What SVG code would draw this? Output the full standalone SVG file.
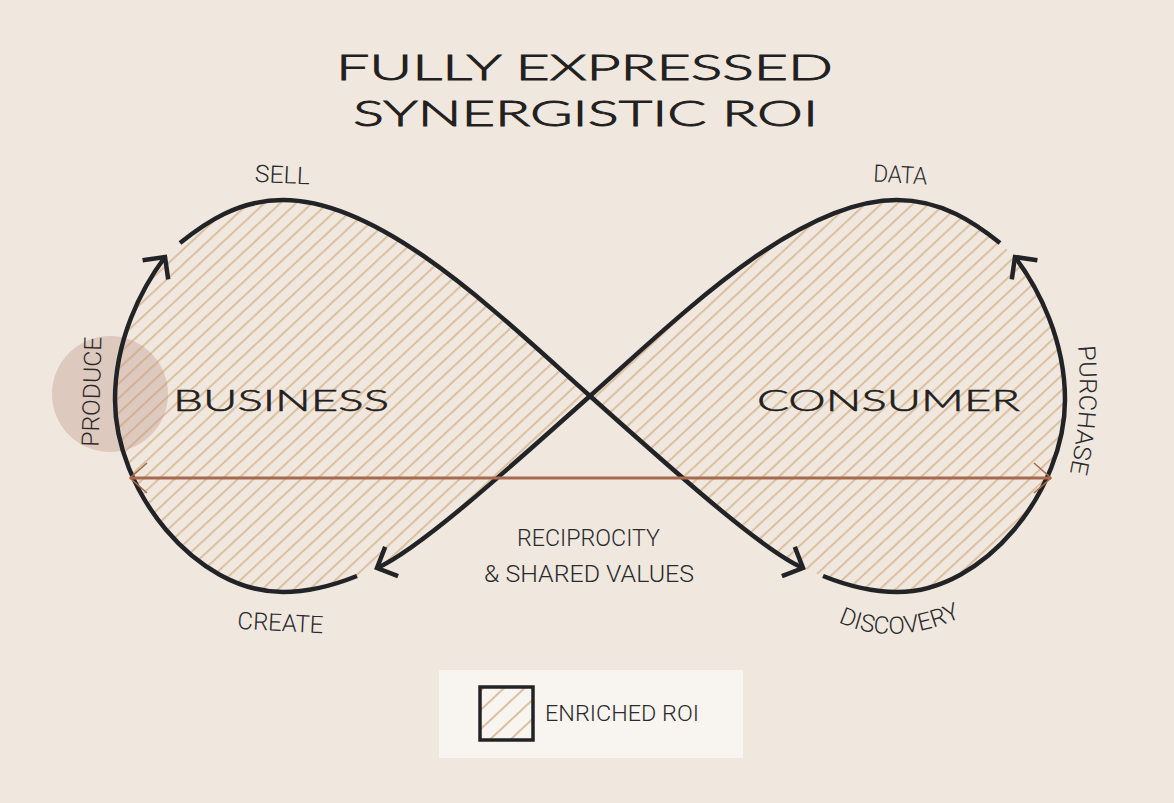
<svg xmlns="http://www.w3.org/2000/svg" width="1174" height="803" viewBox="0 0 1174 803">
  <style>
    .title { font-family: Lato, "Liberation Sans", sans-serif; font-weight: 300; font-size: 36px; fill: #231f20; stroke: #231f20; stroke-width: 0.9; }
    .big { font-family: Lato, "Liberation Sans", sans-serif; font-weight: 300; font-size: 30px; fill: #231f20; stroke: #231f20; stroke-width: 0.6; }
    .lbl { font-family: Roboto, "Noto Sans", sans-serif; font-weight: 300; font-size: 24px; fill: #2a2a2c; }
    .curve { fill: none; stroke: #222326; stroke-width: 4.5; marker-end: url(#chev); }
  </style>
  <defs>
    <pattern id="hatch" width="10.8" height="10" patternUnits="userSpaceOnUse" patternTransform="rotate(47)">
      <line x1="5" y1="-1" x2="5" y2="11" stroke="#dbbf9f" stroke-width="2"/>
    </pattern>
    <pattern id="hatch2" width="14" height="10" patternUnits="userSpaceOnUse" patternTransform="rotate(47)">
      <line x1="7" y1="-1" x2="7" y2="11" stroke="#dbbf9f" stroke-width="2"/>
    </pattern>
    <marker id="chev" markerUnits="userSpaceOnUse" markerWidth="40" markerHeight="40" refX="0" refY="0" orient="auto" viewBox="-30 -20 40 40" overflow="visible">
      <path d="M-16,-16 L0,0 L-16,16" fill="none" stroke="#222326" stroke-width="4.5"/>
    </marker>
    <marker id="bchev" markerUnits="userSpaceOnUse" markerWidth="40" markerHeight="40" refX="0" refY="0" orient="auto-start-reverse" viewBox="-30 -20 40 40" overflow="visible">
      <path d="M-17,-15 L0,0 L-17,15" fill="none" stroke="#a86a4e" stroke-width="1.6"/>
    </marker>
  </defs>

  <rect width="1174" height="803" fill="#f0e8df"/>

  <g id="title">
    <text class="title" x="336" y="80" textLength="497" lengthAdjust="spacingAndGlyphs">FULLY EXPRESSED</text>
    <text class="title" x="353" y="126" textLength="465" lengthAdjust="spacingAndGlyphs">SYNERGISTIC ROI</text>
  </g>

  <g id="business">
    <path d="M590,396 C500,316 383,200 283,200 C238,200 205,223 180,243 L165,257 C141,289 115,340 115,400 C115,490 195,592 283,592 C308,592 332,586 357,576 L377,568 C418,550 505,472 590,396 Z" fill="url(#hatch)"/>
    <text class="big" x="173" y="411" textLength="216" lengthAdjust="spacingAndGlyphs">BUSINESS</text>
  </g>
  <g id="consumer">
    <path d="M590,396 C680,316 797,200 897,200 C942,200 975,223 1000,243 L1015,257 C1039,289 1065,340 1065,400 C1065,490 985,592 897,592 C872,592 848,586 823,576 L803,568 C762,550 675,472 590,396 Z" fill="url(#hatch)"/>
    <text class="big" x="757" y="411" textLength="263" lengthAdjust="spacingAndGlyphs">CONSUMER</text>
  </g>

  <g id="produce">
    <circle cx="110" cy="394" r="58" fill="#c49a8c" fill-opacity="0.4"/>
    <text class="lbl" transform="translate(100,392) rotate(-88.5)" text-anchor="middle" textLength="110" lengthAdjust="spacingAndGlyphs">PRODUCE</text>
  </g>

  <g id="connectors">
    <path class="curve" d="M357,576 C332,586 308,592 283,592 C195,592 115,490 115,400 C115,340 141,289 165,257"/>
    <path class="curve" d="M180,243 C205,223 238,200 283,200 C383,200 500,316 590,396 C675,472 762,550 803,568"/>
    <path class="curve" d="M823,576 C848,586 872,592 897,592 C985,592 1065,490 1065,400 C1065,340 1039,289 1015,257"/>
    <path class="curve" d="M1000,243 C975,223 942,200 897,200 C797,200 680,316 590,396 C505,472 418,550 377,568"/>
    <path d="M130,478 L1051,478" fill="none" stroke="#a86a4e" stroke-width="3" marker-start="url(#bchev)" marker-end="url(#bchev)"/>
  </g>

  <g id="labels">
    <text class="lbl" transform="translate(282,183) rotate(2.5)" text-anchor="middle" textLength="55" lengthAdjust="spacingAndGlyphs">SELL</text>
    <text class="lbl" transform="translate(900,183) rotate(3)" text-anchor="middle" textLength="54" lengthAdjust="spacingAndGlyphs">DATA</text>
    <text class="lbl" transform="translate(280,631) rotate(3)" text-anchor="middle" textLength="86" lengthAdjust="spacingAndGlyphs">CREATE</text>
    <path id="discPath" d="M838,622 Q898,650 972,612" fill="none"/>
    <text class="lbl"><textPath href="#discPath" textLength="127" lengthAdjust="spacingAndGlyphs">DISCOVERY</textPath></text>
    <path id="purchPath" d="M1078,346 Q1084,410 1069,478" fill="none"/>
    <text class="lbl"><textPath href="#purchPath" textLength="128" lengthAdjust="spacingAndGlyphs">PURCHASE</textPath></text>
    <text class="lbl" x="517" y="546" textLength="143" lengthAdjust="spacingAndGlyphs">RECIPROCITY</text>
    <text class="lbl" x="484" y="582" textLength="210" lengthAdjust="spacingAndGlyphs">&amp; SHARED VALUES</text>
  </g>

  <g id="legend">
    <rect x="439" y="670" width="304" height="88" fill="#f8f4ef"/>
    <rect x="480" y="687" width="53" height="53" fill="url(#hatch2)" stroke="#222326" stroke-width="3.5"/>
    <text class="lbl" x="545" y="721" style="font-size:22px" textLength="154" lengthAdjust="spacingAndGlyphs">ENRICHED ROI</text>
  </g>
</svg>
